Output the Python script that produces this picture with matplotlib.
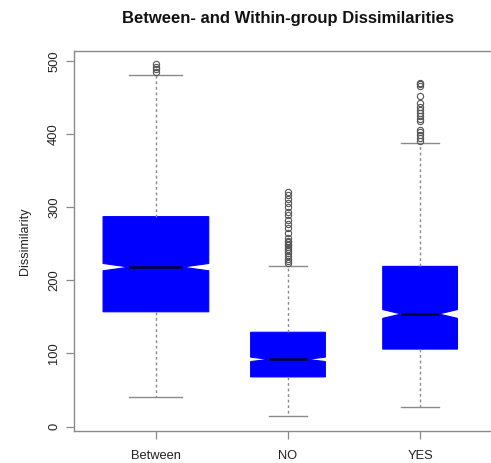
import numpy as np
import matplotlib
matplotlib.use("Agg")
import matplotlib.pyplot as plt

plt.rcParams['font.family'] = ['Liberation Sans', 'DejaVu Sans']

# summary statistics
groups = ['Between', 'NO', 'YES']
q1 = [157, 68, 106]
medians = [218, 92, 154]
q3 = [287, 129, 219]
whis_lo = [41, 14, 27]
whis_hi = [480, 220, 387]
ci_lo = [213, 89, 148]
ci_hi = [223, 95, 160]
fliers_between = [484, 489, 492, 496]
fliers_no = [223, 226, 229, 233, 237, 240, 243, 246, 248, 250, 252, 254,
             258, 264, 271, 277, 283, 289, 294, 300, 305, 311, 316, 320]
fliers_yes = [391, 394, 398, 402, 405, 417, 421, 425, 429, 433, 437, 442,
              452, 466, 468, 470]
# varwidth: Between has about twice the pairs of each within group
rel_n = [2.0, 1.0, 1.0]

fliers = [fliers_between, fliers_no, fliers_yes]
stats = []
for i, g in enumerate(groups):
    stats.append(dict(label=g, q1=q1[i], med=medians[i], q3=q3[i],
                      whislo=whis_lo[i], whishi=whis_hi[i],
                      cilo=ci_lo[i], cihi=ci_hi[i], fliers=fliers[i]))

widths = [0.8 * np.sqrt(n / max(rel_n)) for n in rel_n]

fig = plt.figure(figsize=(4.91, 4.63), dpi=100)
ax = fig.add_axes([74 / 491, 1 - 430.7 / 463, (502 - 74) / 491, (430.7 - 51) / 463])

gray = '#8a8a8a'
ax.bxp(stats, positions=[1, 2, 3], widths=widths, shownotches=True,
       patch_artist=True,
       boxprops=dict(facecolor='#0000ff', edgecolor='#0000ff', linewidth=0.8),
       medianprops=dict(color='#00002a', linewidth=1.8),
       whiskerprops=dict(color=gray, linestyle=(0, (2, 2)), linewidth=1.0),
       capprops=dict(color=gray, linewidth=1.0),
       capwidths=[w / 2 for w in widths],
       flierprops=dict(marker='o', markersize=4.5, markerfacecolor='none',
                       markeredgecolor='#555555', markeredgewidth=0.8))

ax.set_xlim(0.38, 3.62)
ax.set_ylim(-5.5, 513.3)
ax.set_yticks([0, 100, 200, 300, 400, 500])
ax.set_xticks([1, 2, 3])
ax.set_xticklabels(groups)
for lab in ax.get_yticklabels():
    lab.set_rotation(90)
    lab.set_va('center')
ax.tick_params(axis='both', colors=gray, labelcolor='#222222', labelsize=9.3,
               length=6, width=0.9)
ax.tick_params(axis='x', pad=8)
ax.tick_params(axis='y', pad=4)
for s in ax.spines.values():
    s.set_color(gray)
    s.set_linewidth(1.0)

ax.set_ylabel('Dissimilarity', fontsize=9, color='#222222', labelpad=12)
ax.set_title('Between- and Within-group Dissimilarities', fontsize=12,
             fontweight='bold', color='#111111', pad=20)

fig.savefig('out.png', dpi=100)
